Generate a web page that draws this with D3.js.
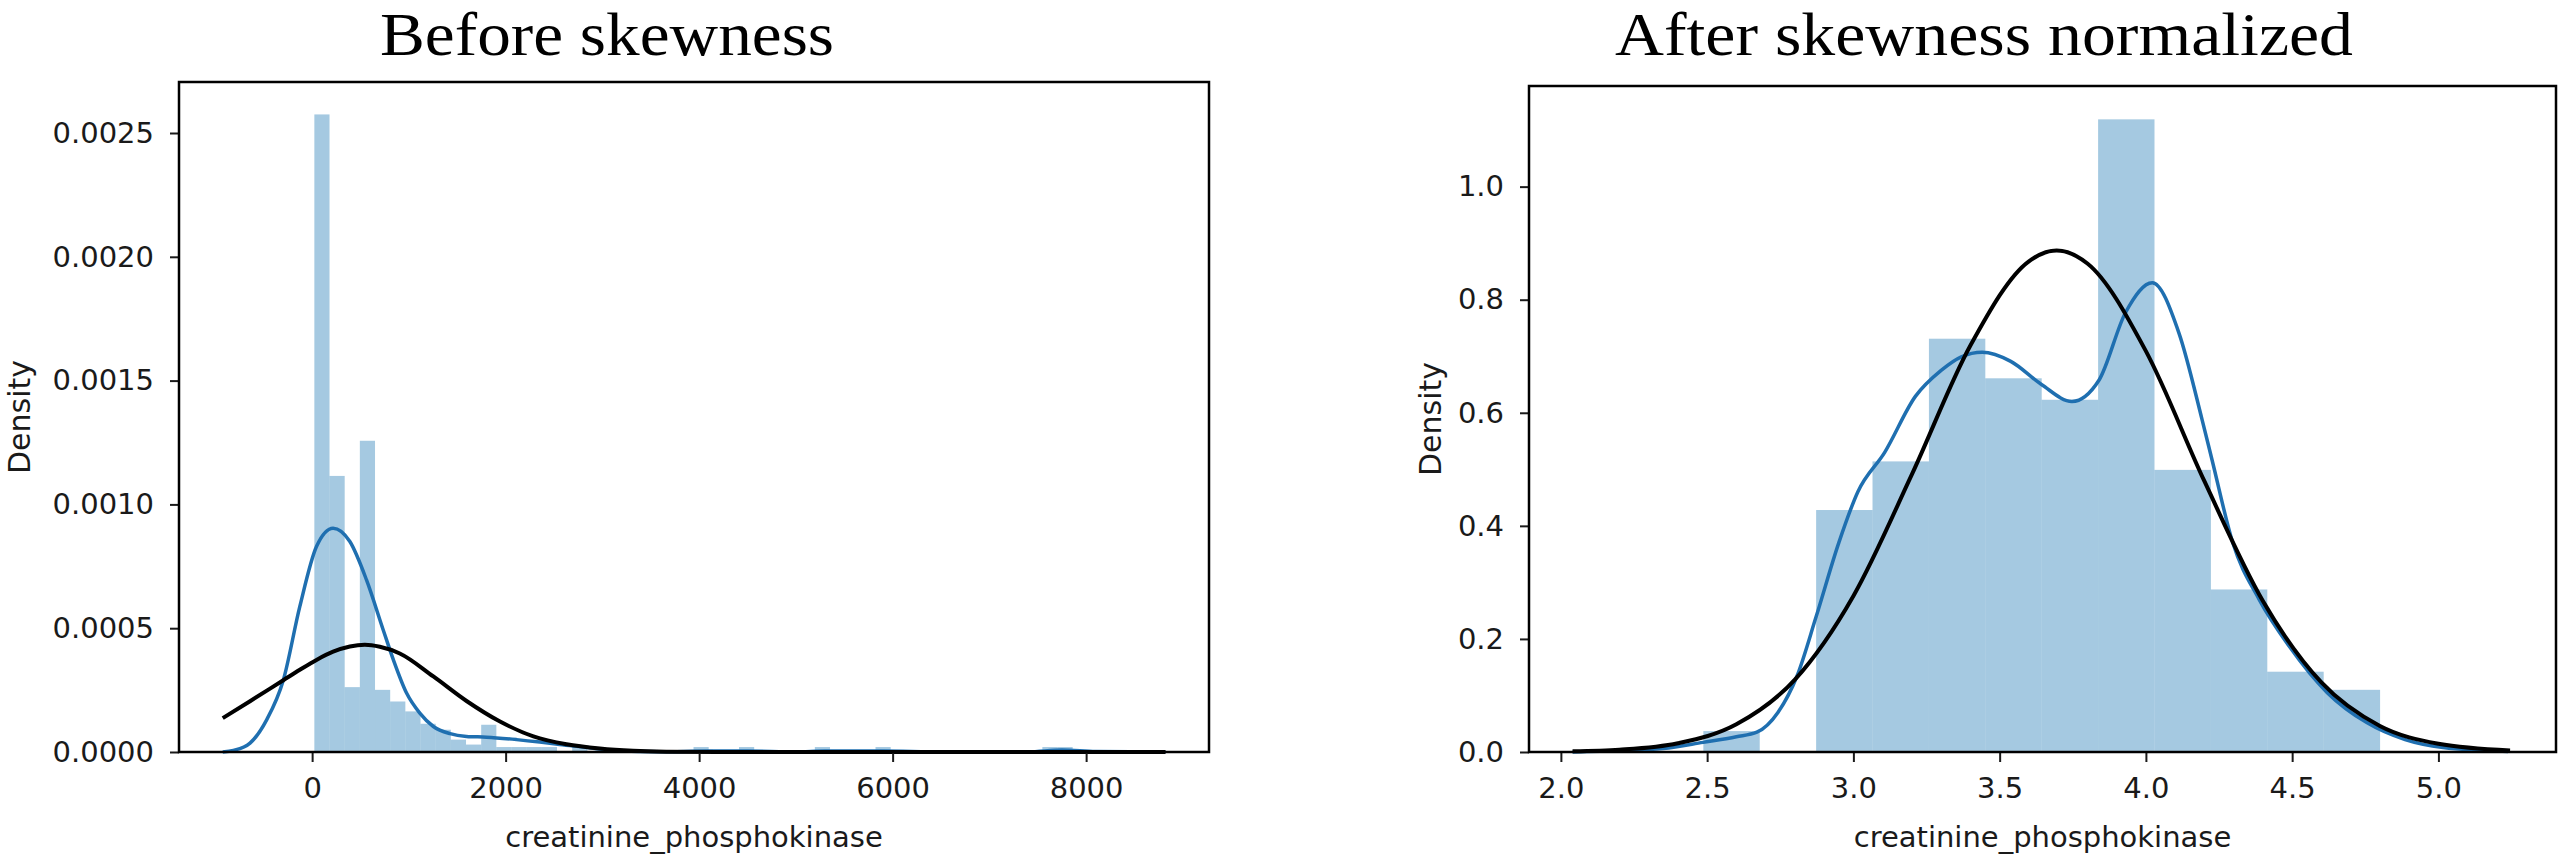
<!DOCTYPE html>
<html>
<head>
<meta charset="utf-8">
<script src="https://cdn.jsdelivr.net/npm/d3@7"></script>
<style>
  body { margin: 0; background: #fff; }
  .tick text { font-family: "DejaVu Sans", sans-serif; font-size: 29px; fill: #1a1a1a; }
  .tick line { stroke: #1a1a1a; stroke-width: 2; }
  .domain { display: none; }
</style>
</head>
<body>
<div id="chart"></div>
<script>
const w = 2565;
const h = 862;

// ---- Before skewness (raw creatinine_phosphokinase) ----
const beforeBinStart = 23;
const beforeBinWidth = 156.76;
const beforeHist = [
  0.002575, 0.001115, 0.000262, 0.001257, 0.000251, 0.000204, 0.000164, 0.000114, 0.00009, 0.00005,
  0.00003, 0.00011, 0.00002, 0.00002, 0.00002, 0.00002, 0, 0.00002, 0, 0,
  0, 0, 0, 0, 0, 0.00002, 0, 0, 0.00002, 0,
  0, 0, 0, 0.00002, 0, 0, 0, 0.00002, 0, 0,
  0, 0, 0, 0, 0, 0, 0, 0, 0.00002, 0.00002
];
const beforeKdeX = [-924, -813, -642, -470, -298, -127, 45, 217, 390, 562, 734, 840, 976, 1113, 1253, 1426, 1596,
  1803, 2113, 2353, 2560, 2802, 3148, 3600, 4100, 4500, 5000, 5300, 5900, 6500, 7400, 7750, 8100, 8820];
const beforeKdeY = [0, 0.0000065, 0.000036, 0.00013, 0.00029, 0.000588, 0.00083, 0.000904, 0.00085, 0.000695,
  0.000494, 0.000372, 0.000238, 0.000157, 0.000103, 0.000074, 0.000063, 0.00006, 0.00005, 0.00004, 0.00003,
  0.00002, 0.000005, 0.000001, 0.000004, 0.000004, 0.000001, 0.000004, 0.000004, 0.0000005, 0.000001,
  0.000008, 0.000002, 0];
const beforeFitX = [-924, -642, -298, -127, 45, 217, 390, 545, 700, 906, 1253, 1596, 1942, 2287, 2629, 2974,
  3318, 3660, 4200, 5000, 8820];
const beforeFitY = [0.000137, 0.000205, 0.00029, 0.000332, 0.000372, 0.000405, 0.000426, 0.000433, 0.000425,
  0.000398, 0.000305, 0.000206, 0.000123, 0.000063, 0.000031, 0.000014, 0.000005, 0.0000015, 0.0000002, 0, 0];
const beforeXTicks = [0, 2000, 4000, 6000, 8000];
const beforeYTicks = [0, 0.0005, 0.001, 0.0015, 0.002, 0.0025];

// ---- After skewness normalized ----
const afterBinStart = 2.487;
const afterBinWidth = 0.1928;
const afterHist = [0.037, 0, 0.428, 0.514, 0.731, 0.661, 0.623, 1.119, 0.499, 0.2875, 0.142, 0.110];
const afterKdeX = [2.04, 2.2, 2.35, 2.486, 2.6, 2.67, 2.742, 2.807, 2.873, 2.95, 3.015, 3.107, 3.212, 3.3, 3.369,
  3.44, 3.538, 3.643, 3.747, 3.84, 3.93, 4.022, 4.113, 4.192, 4.226, 4.297, 4.387, 4.49, 4.62, 4.755, 4.886,
  5.016, 5.238];
const afterKdeY = [0, 0.002, 0.006, 0.017, 0.027, 0.035, 0.07, 0.134, 0.24, 0.37, 0.46, 0.53, 0.629, 0.675,
  0.699, 0.707, 0.691, 0.65, 0.62, 0.658, 0.777, 0.83, 0.741, 0.588, 0.517, 0.37, 0.27, 0.187, 0.105, 0.052,
  0.022, 0.008, 0.001];
const afterFitX = [2.04, 2.2, 2.4, 2.6, 2.8, 3.0, 3.2, 3.4, 3.6, 3.695, 3.8, 4.0, 4.2, 4.4, 4.6, 4.8, 5.0, 5.245];
const afterFitY = [0.0012, 0.004, 0.0155, 0.049, 0.128, 0.276, 0.491, 0.719, 0.868, 0.887, 0.864, 0.709, 0.479,
  0.267, 0.123, 0.046, 0.0145, 0.0027];
const afterXTicks = [2.0, 2.5, 3.0, 3.5, 4.0, 4.5, 5.0];
const afterYTicks = [0, 0.2, 0.4, 0.6, 0.8, 1.0];

const xLabel = "creatinine_phosphokinase";
const yLabel = "Density";

const svg = d3.select("#chart")
  .append("svg")
  .attr("width", w)
  .attr("height", h);

function drawPanel(p) {
  const xScale = d3.scaleLinear().domain(p.xDomain).range([p.left, p.right]);
  const yScale = d3.scaleLinear().domain(p.yDomain).range([p.bottom, p.top]);

  const g = svg.append("g");

  // histogram bars
  g.selectAll("rect.bar")
    .data(p.hist)
    .enter()
    .append("rect")
    .attr("class", "bar")
    .attr("x", (d, i) => xScale(p.binStart + i * p.binWidth))
    .attr("width", (d, i) => xScale(p.binStart + (i + 1) * p.binWidth) - xScale(p.binStart + i * p.binWidth))
    .attr("y", d => yScale(d))
    .attr("height", d => yScale(0) - yScale(d))
    .attr("fill", "#1f77b4")
    .attr("fill-opacity", 0.4);

  const line = d3.line()
    .x(d => xScale(d[0]))
    .y(d => yScale(d[1]))
    .curve(d3.curveMonotoneX);

  g.append("path")
    .datum(d3.zip(p.kdeX, p.kdeY))
    .attr("d", line)
    .attr("fill", "none")
    .attr("stroke", "#1f6fb0")
    .attr("stroke-width", 3.5);

  g.append("path")
    .datum(d3.zip(p.fitX, p.fitY))
    .attr("d", line)
    .attr("fill", "none")
    .attr("stroke", "#000")
    .attr("stroke-width", 4);

  // axes
  g.append("g")
    .attr("transform", "translate(0," + p.bottom + ")")
    .call(d3.axisBottom(xScale).tickValues(p.xTicks).tickFormat(p.xFormat).tickSize(10).tickPadding(15));

  g.append("g")
    .attr("transform", "translate(" + p.left + ",0)")
    .call(d3.axisLeft(yScale).tickValues(p.yTicks).tickFormat(p.yFormat).tickSize(9).tickPadding(16));

  // frame
  g.append("rect")
    .attr("x", p.left)
    .attr("y", p.top)
    .attr("width", p.right - p.left)
    .attr("height", p.bottom - p.top)
    .attr("fill", "none")
    .attr("stroke", "#000")
    .attr("stroke-width", 2.5);

  g.append("text")
    .attr("x", (p.left + p.right) / 2)
    .attr("y", 847)
    .attr("text-anchor", "middle")
    .style("font-family", "DejaVu Sans")
    .style("font-size", "29px")
    .style("fill", "#1a1a1a")
    .text(xLabel);

  g.append("text")
    .attr("transform", "translate(" + p.yLabelX + "," + (p.top + p.bottom) / 2 + ") rotate(-90)")
    .attr("text-anchor", "middle")
    .style("font-family", "DejaVu Sans")
    .style("font-size", "30px")
    .style("fill", "#1a1a1a")
    .text(yLabel);

  svg.append("text")
    .attr("x", p.titleX)
    .attr("y", 55)
    .attr("text-anchor", "middle")
    .attr("textLength", p.titleWidth)
    .attr("lengthAdjust", "spacingAndGlyphs")
    .style("font-family", "Liberation Serif")
    .style("font-size", "61px")
    .style("fill", "#000")
    .text(p.title);
}

drawPanel({
  title: "Before skewness", titleX: 607, titleWidth: 454,
  left: 179, right: 1209, top: 82, bottom: 752,
  xDomain: [-1376, 9270], yDomain: [0, 0.002706],
  binStart: beforeBinStart, binWidth: beforeBinWidth, hist: beforeHist,
  kdeX: beforeKdeX, kdeY: beforeKdeY, fitX: beforeFitX, fitY: beforeFitY,
  xTicks: beforeXTicks, yTicks: beforeYTicks,
  xFormat: d3.format("d"), yFormat: d3.format(".4f"),
  yLabelX: 30
});

drawPanel({
  title: "After skewness normalized", titleX: 1984, titleWidth: 738,
  left: 1529, right: 2556, top: 86, bottom: 752,
  xDomain: [1.891, 5.402], yDomain: [0, 1.178],
  binStart: afterBinStart, binWidth: afterBinWidth, hist: afterHist,
  kdeX: afterKdeX, kdeY: afterKdeY, fitX: afterFitX, fitY: afterFitY,
  xTicks: afterXTicks, yTicks: afterYTicks,
  xFormat: d3.format(".1f"), yFormat: d3.format(".1f"),
  yLabelX: 1441
});
</script>
</body>
</html>
